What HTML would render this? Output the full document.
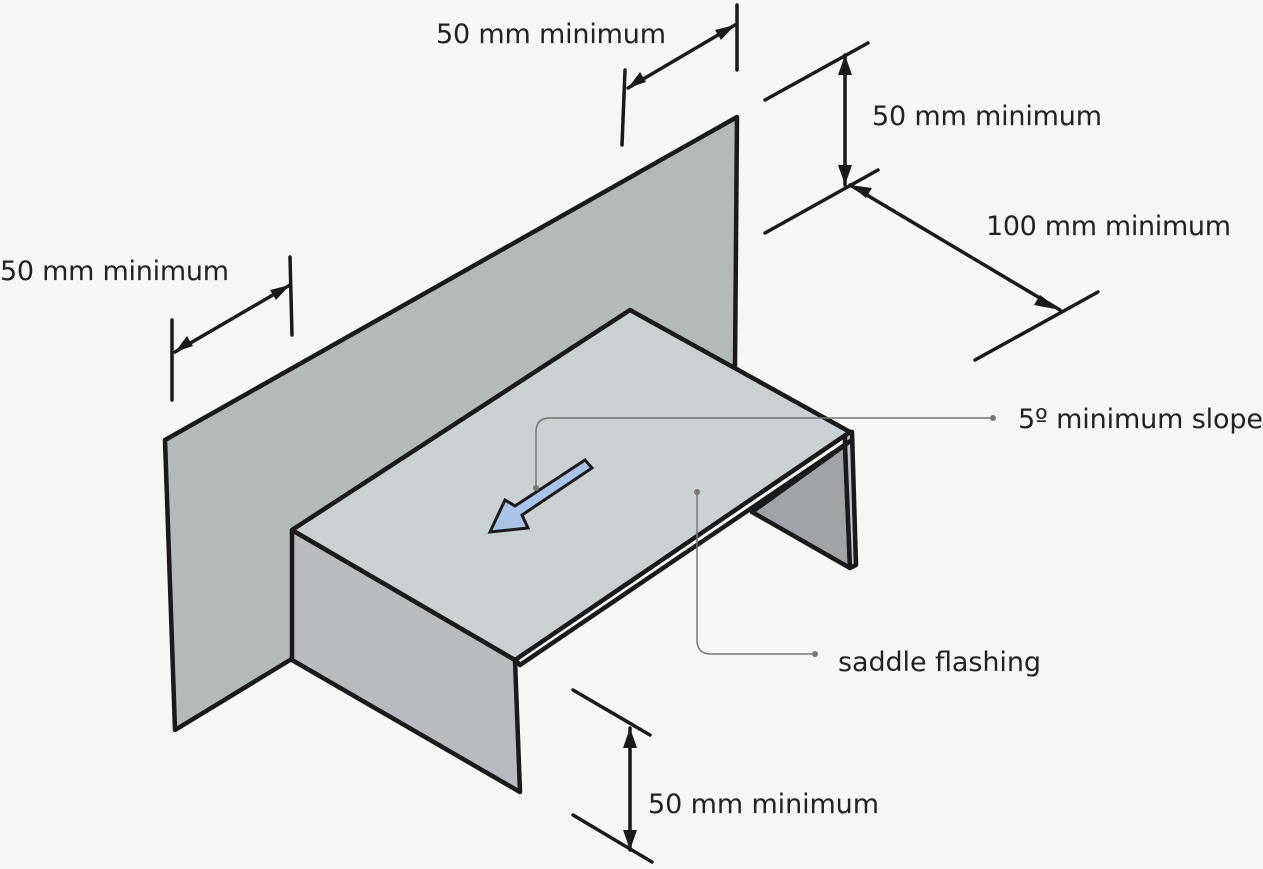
<!DOCTYPE html>
<html><head><style>
html,body{margin:0;padding:0;background:#f5f7f5;}
svg{display:block}
text{font-family:"DejaVu Sans","Liberation Sans",sans-serif;font-size:27px;fill:#222;}
</style></head><body>
<svg width="1263" height="869" viewBox="0 0 1263 869">
<rect width="1263" height="869" fill="#f5f7f5"/>
<g stroke="#1a1a1a" stroke-width="4.5" stroke-linejoin="round">
<polygon points="165,440 737,117 735,368 290,660 175,730" fill="#b4b9ba"/>
<polygon points="752,512 845,445 850,568" fill="#a0a4a6"/>
<polygon points="845,432 852,432 856,565 850,568 845,445" fill="#c0c4c6"/>
<polygon points="292,530 515,660 520,792 292,660" fill="#b8bcbe"/>
<polygon points="292,530 630,310 850,432 515,660" fill="#cbd0d2"/>
<polyline points="515,660 520,665 852,440" fill="none"/>
</g>
<polygon points="585,460 592,468 522,515 528,528 490,532 505,500 515,506" fill="#a9c4e6" stroke="#1a1a1a" stroke-width="3"/>
<g stroke="#777" stroke-width="1.5" fill="none">
<path d="M993,418 H550 Q536,418 536,432 V488"/>
<path d="M697,492 V640 Q697,654 711,654 H815"/>
</g>
<g fill="#777"><circle cx="993" cy="418" r="3"/><circle cx="697" cy="492" r="3"/><circle cx="815" cy="654" r="3"/><circle cx="536" cy="488" r="3"/></g>
<g stroke="#1a1a1a" stroke-width="3.5" fill="none" stroke-linecap="round">
<path d="M737,5 V70"/><path d="M625,70 L622,145"/><path d="M628,88 L735,25"/>
<path d="M765,100 L868,43"/><path d="M765,233 L878,170"/><path d="M845,55 V185"/>
<path d="M850,185 L1060,310"/><path d="M975,360 L1098,292"/>
<path d="M290,257 L292,335"/><path d="M172,320 L172,400"/><path d="M175,352 L290,285"/>
<path d="M573,690 L650,735"/><path d="M573,815 L652,862"/><path d="M630,728 V850"/>
</g>
<g fill="#1a1a1a">
<polygon points="735,25 715,30 721,40"/><polygon points="628,88 640,72 646,82"/>
<polygon points="845,55 838,75 852,75"/><polygon points="845,185 838,165 852,165"/>
<polygon points="850,185 872,188 866,198"/><polygon points="1060,310 1040,295 1034,305"/>
<polygon points="290,285 270,290 276,300"/><polygon points="175,352 187,336 193,346"/>
<polygon points="630,728 623,748 637,748"/><polygon points="630,850 623,830 637,830"/>
</g>
<text x="436" y="43" textLength="230">50 mm minimum</text>
<text x="872" y="125" textLength="230">50 mm minimum</text>
<text x="986" y="235" textLength="245">100 mm minimum</text>
<text x="0" y="280" textLength="229">50 mm minimum</text>
<text x="1018" y="428" textLength="245">5º minimum slope</text>
<text x="838" y="671" textLength="203">saddle flashing</text>
<text x="648" y="813" textLength="231">50 mm minimum</text>
</svg>
</body></html>
